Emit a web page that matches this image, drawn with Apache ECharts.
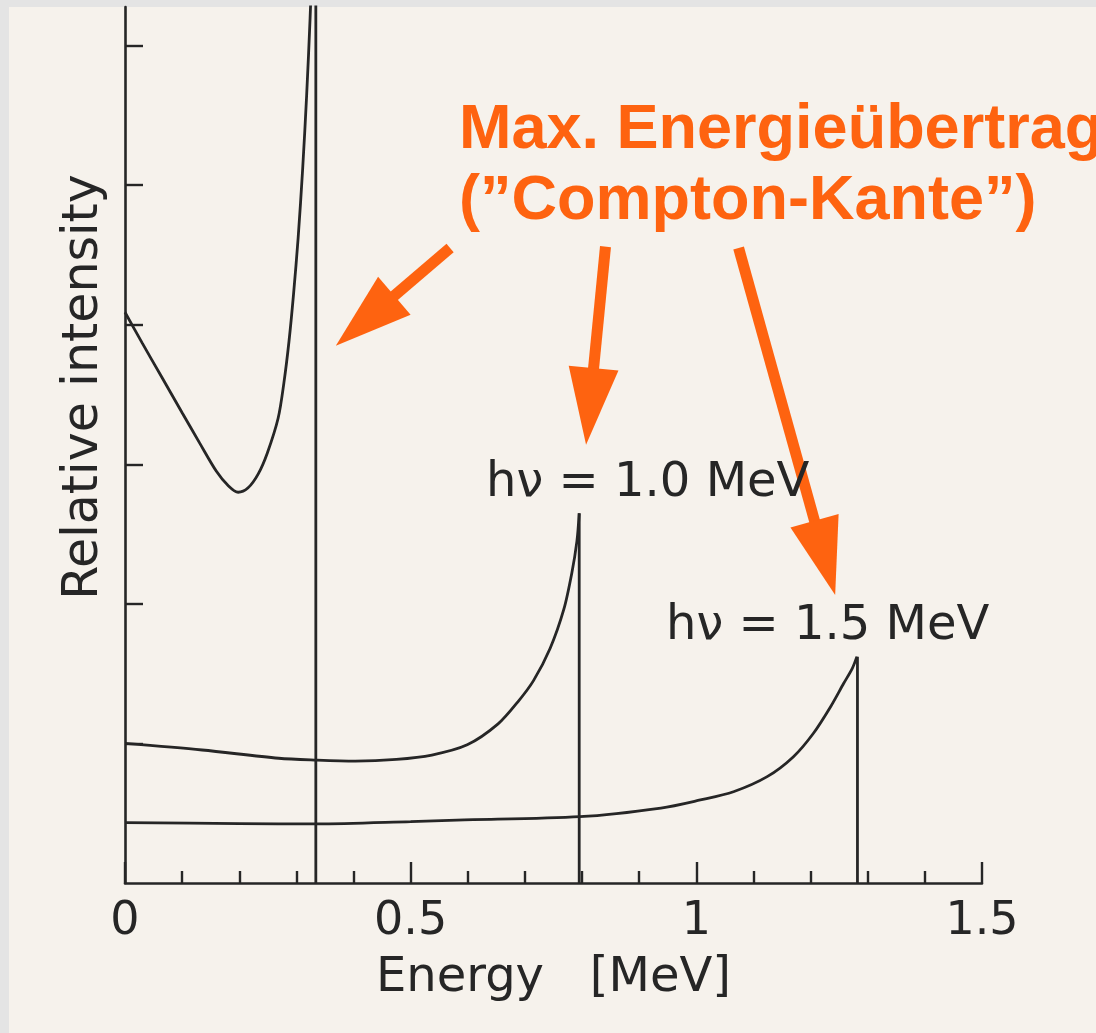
<!DOCTYPE html>
<html>
<head>
<meta charset="utf-8">
<script src="https://cdn.jsdelivr.net/npm/echarts@6/dist/echarts.min.js"></script>
<style>
  html, body { margin: 0; padding: 0; background: #e4e4e4; }
  #paper { position: absolute; left: 9px; top: 7px; right: 0; bottom: 0; background: #f6f2ec; }
  #main { position: absolute; left: 0; top: 0; width: 1096px; height: 1033px; }
</style>
</head>
<body>
<div id="paper"></div>
<div id="main"></div>
<script>
// Compton spectra, energy in MeV, intensity in tick units
const energy05 = [0, 0.03, 0.065, 0.10, 0.131, 0.16, 0.18, 0.198, 0.215, 0.233, 0.249, 0.268, 0.278, 0.287, 0.295, 0.303, 0.311, 0.318, 0.324, 0.329, 0.332, 0.334];
const intensity05 = [4.09, 3.87, 3.62, 3.37, 3.15, 2.95, 2.85, 2.80, 2.83, 2.93, 3.08, 3.33, 3.58, 3.88, 4.22, 4.62, 5.12, 5.65, 6.2, 6.75, 7.0, 7.2];

const energy10 = [0, 0.135, 0.269, 0.336, 0.403, 0.475, 0.537, 0.599, 0.653, 0.688, 0.715, 0.744, 0.768, 0.782, 0.791, 0.795];
const intensity10 = [1.00, 0.953, 0.894, 0.881, 0.874, 0.886, 0.917, 0.99, 1.14, 1.30, 1.45, 1.68, 1.96, 2.22, 2.45, 2.649];

const energy15 = [0, 0.2, 0.336, 0.5, 0.581, 0.796, 0.938, 1.007, 1.065, 1.124, 1.170, 1.205, 1.235, 1.258, 1.273, 1.281];
const intensity15 = [0.432, 0.426, 0.423, 0.44, 0.451, 0.475, 0.537, 0.595, 0.654, 0.762, 0.905, 1.073, 1.263, 1.431, 1.538, 1.622];

// Compton edges (vertical drop) and their tops
const edgeEnergy = [0.334, 0.795, 1.282];
const edgeTop = [7.2, 2.649, 1.622];

const yTicks = [1, 2, 3, 4, 5, 6];
const photonLabels = ['hν = 1.0 MeV', 'hν = 1.5 MeV'];

const ink = '#262626';
const orange = '#fe6310';

function pairs(xs, ys) {
  return xs.map((x, i) => [x, ys[i]]);
}

const curveStyle = { color: ink, width: 2.8 };

const series = [];
[[energy05, intensity05], [energy10, intensity10], [energy15, intensity15]].forEach((c, i) => {
  series.push({
    type: 'line',
    data: pairs(c[0], c[1]),
    smooth: 0.3,
    showSymbol: false,
    lineStyle: curveStyle,
    clip: true
  });
  series.push({
    type: 'line',
    data: [[edgeEnergy[i], 0], [edgeEnergy[i], edgeTop[i]]],
    showSymbol: false,
    lineStyle: curveStyle,
    clip: true
  });
});

const option = {
  animation: false,
  backgroundColor: 'transparent',
  grid: {
    left: 125,
    right: 114,
    top: 7,
    bottom: 150,
    outerBoundsMode: 'none'
  },
  xAxis: {
    type: 'value',
    min: 0,
    max: 1.5,
    interval: 0.5,
    name: 'Energy   [MeV]',
    nameLocation: 'middle',
    nameGap: 72,
    nameTextStyle: { fontFamily: 'DejaVu Sans', fontSize: 48, color: ink },
    axisLine: { show: true, onZero: false, lineStyle: { color: ink, width: 2.6 } },
    axisTick: { show: true, inside: true, length: 21, lineStyle: { color: ink, width: 2.4 } },
    minorTick: { show: true, splitNumber: 5, length: 12, lineStyle: { color: ink, width: 2.4 } },
    axisLabel: { margin: 16, fontFamily: 'DejaVu Sans', fontSize: 46, color: ink },
    splitLine: { show: false },
    minorSplitLine: { show: false }
  },
  yAxis: {
    type: 'value',
    min: 0,
    max: 6.277,
    interval: 1,
    axisLine: { show: true, onZero: false, lineStyle: { color: ink, width: 2.6 } },
    axisTick: { show: true, inside: true, length: 18, customValues: yTicks, lineStyle: { color: ink, width: 2.4 } },
    axisLabel: { show: false },
    splitLine: { show: false }
  },
  series: series
};

const chart = echarts.init(document.getElementById('main'));
chart.setOption(option);

const toPx = (p) => chart.convertToPixel({ gridIndex: 0 }, p);

// arrow annotations (data coordinates of tail and tip)
const arrows = [
  { tail: [0.569, 4.55], tip: [0.369, 3.85] },
  { tail: [0.841, 4.56], tip: [0.807, 3.14] },
  { tail: [1.074, 4.55], tip: [1.243, 2.064] }
];

const graphics = [];

arrows.forEach((a) => {
  const t = toPx(a.tail);
  const h = toPx(a.tip);
  const dx = h[0] - t[0], dy = h[1] - t[1];
  const len = Math.sqrt(dx * dx + dy * dy);
  const ux = dx / len, uy = dy / len;
  const headLen = 77, half = 25;
  const bx = h[0] - ux * headLen, by = h[1] - uy * headLen;
  graphics.push({
    type: 'line',
    shape: { x1: t[0], y1: t[1], x2: bx + ux * 4, y2: by + uy * 4 },
    style: { stroke: orange, lineWidth: 11 }
  });
  graphics.push({
    type: 'polygon',
    shape: { points: [[h[0], h[1]], [bx - uy * half, by + ux * half], [bx + uy * half, by - ux * half]] },
    style: { fill: orange }
  });
});

// photon energy labels
const labelAt = [[0.632, 2.86], [0.947, 1.84]];
labelAt.forEach((p, i) => {
  const q = toPx(p);
  graphics.push({
    type: 'text',
    x: q[0],
    y: q[1],
    style: {
      text: photonLabels[i],
      fontFamily: 'DejaVu Sans',
      fontSize: 48,
      fill: ink,
      align: 'left',
      verticalAlign: 'middle'
    }
  });
});

// y axis name
graphics.push({
  type: 'text',
  x: 84,
  y: 387,
  rotation: Math.PI / 2,
  style: {
    text: 'Relative intensity',
    fontFamily: 'DejaVu Sans',
    fontSize: 49,
    fill: ink,
    align: 'center',
    verticalAlign: 'middle'
  }
});

// orange annotation
graphics.push({
  type: 'text',
  x: 459,
  y: 95,
  style: {
    text: 'Max. Energieübertrag\n(”Compton-Kante”)',
    fontFamily: 'Liberation Sans',
    fontWeight: 'bold',
    fontSize: 63,
    lineHeight: 71,
    fill: orange,
    align: 'left',
    verticalAlign: 'top'
  }
});

chart.setOption({ graphic: { elements: graphics } });
</script>
</body>
</html>
